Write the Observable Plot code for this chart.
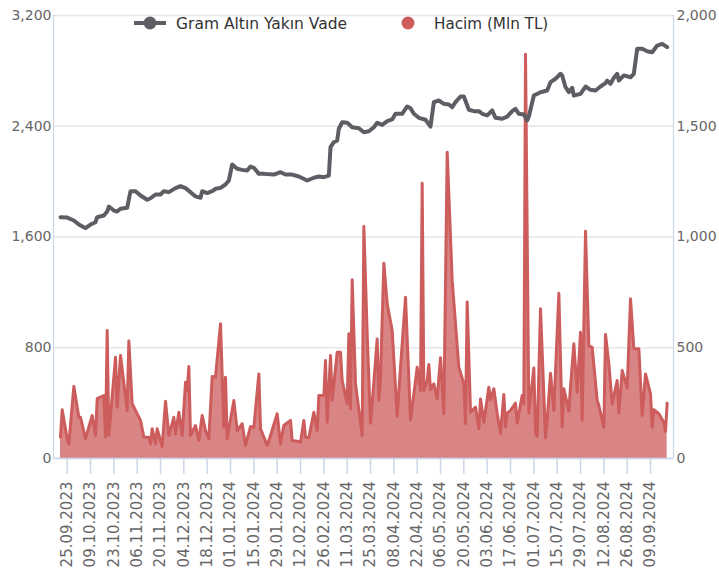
<!DOCTYPE html>
<html><head><meta charset="utf-8">
<script src="https://cdn.jsdelivr.net/npm/d3@7"></script>
<script src="https://cdn.jsdelivr.net/npm/@observablehq/plot@0.6"></script>
<style>
body{margin:0;background:#fff;}
#wrap{position:relative;width:719px;height:574px;font-family:"DejaVu Sans",sans-serif;overflow:hidden;}
#legend{position:absolute;left:0;top:0;}
</style></head><body>
<div id="wrap"><div id="chart"></div><svg id="legend" width="719" height="40"></svg></div>
<script>
const seriesNames = ["Gram Altın Yakın Vade", "Hacim (Mln TL)"];
const seriesColors = ["#5c5e63", "#cd5c5c"];
const leftTicks = [0, 800, 1600, 2400, 3200];
const rightTicks = [0, 500, 1000, 1500, 2000];
const tickDates = ["2023-09-25","2023-10-09","2023-10-23","2023-11-06","2023-11-20","2023-12-04","2023-12-18","2024-01-01","2024-01-15","2024-01-29","2024-02-12","2024-02-26","2024-03-11","2024-03-25","2024-04-08","2024-04-22","2024-05-06","2024-05-20","2024-06-03","2024-06-17","2024-07-01","2024-07-15","2024-07-29","2024-08-12","2024-08-26","2024-09-09"];

const priceDates = ["2023-09-21","2023-09-25","2023-09-29","2023-10-02","2023-10-05","2023-10-06","2023-10-09","2023-10-12","2023-10-13","2023-10-17","2023-10-19","2023-10-20","2023-10-23","2023-10-25","2023-10-27","2023-10-31","2023-11-02","2023-11-05","2023-11-08","2023-11-12","2023-11-14","2023-11-17","2023-11-20","2023-11-22","2023-11-25","2023-11-29","2023-12-02","2023-12-05","2023-12-08","2023-12-11","2023-12-14","2023-12-15","2023-12-18","2023-12-21","2023-12-23","2023-12-26","2023-12-29","2023-12-31","2024-01-02","2024-01-05","2024-01-08","2024-01-11","2024-01-13","2024-01-15","2024-01-18","2024-01-21","2024-01-27","2024-01-31","2024-02-03","2024-02-07","2024-02-11","2024-02-16","2024-02-20","2024-02-23","2024-02-26","2024-02-29","2024-03-01","2024-03-03","2024-03-05","2024-03-06","2024-03-08","2024-03-11","2024-03-14","2024-03-18","2024-03-21","2024-03-24","2024-03-27","2024-03-29","2024-04-01","2024-04-04","2024-04-07","2024-04-09","2024-04-13","2024-04-16","2024-04-18","2024-04-20","2024-04-23","2024-04-27","2024-04-30","2024-05-02","2024-05-05","2024-05-08","2024-05-11","2024-05-13","2024-05-15","2024-05-18","2024-05-20","2024-05-23","2024-05-26","2024-05-29","2024-05-31","2024-06-03","2024-06-06","2024-06-08","2024-06-12","2024-06-15","2024-06-18","2024-06-20","2024-06-22","2024-06-25","2024-06-27","2024-06-28","2024-07-01","2024-07-05","2024-07-09","2024-07-11","2024-07-14","2024-07-17","2024-07-18","2024-07-20","2024-07-22","2024-07-24","2024-07-25","2024-07-29","2024-08-01","2024-08-04","2024-08-07","2024-08-10","2024-08-13","2024-08-14","2024-08-16","2024-08-18","2024-08-20","2024-08-21","2024-08-24","2024-08-28","2024-08-30","2024-09-01","2024-09-04","2024-09-07","2024-09-10","2024-09-13","2024-09-16","2024-09-19"];
const priceValues = [1743,1740,1719,1690,1671,1664,1690,1707,1743,1755,1784,1820,1791,1784,1804,1811,1931,1931,1900,1869,1880,1907,1907,1931,1924,1953,1967,1953,1924,1893,1883,1931,1917,1931,1948,1955,1979,2008,2124,2093,2085,2080,2109,2100,2056,2056,2051,2068,2051,2051,2037,2008,2028,2037,2032,2044,2249,2285,2297,2382,2429,2425,2393,2386,2357,2364,2393,2425,2410,2437,2449,2490,2490,2543,2530,2490,2461,2447,2398,2574,2586,2562,2557,2538,2574,2615,2615,2519,2509,2509,2490,2478,2514,2461,2454,2470,2509,2526,2490,2485,2442,2470,2622,2646,2658,2718,2743,2779,2767,2682,2646,2678,2622,2634,2687,2663,2658,2687,2711,2730,2706,2750,2779,2730,2767,2754,2779,2960,2960,2942,2935,2983,2995,2971];

const volDates = ["2023-09-21","2023-09-22","2023-09-25","2023-09-26","2023-09-29","2023-10-02","2023-10-03","2023-10-06","2023-10-10","2023-10-12","2023-10-13","2023-10-17","2023-10-18","2023-10-19","2023-10-20","2023-10-24","2023-10-25","2023-10-27","2023-10-31","2023-11-01","2023-11-03","2023-11-08","2023-11-10","2023-11-13","2023-11-14","2023-11-15","2023-11-17","2023-11-18","2023-11-21","2023-11-23","2023-11-25","2023-11-28","2023-11-29","2023-12-01","2023-12-03","2023-12-05","2023-12-06","2023-12-07","2023-12-08","2023-12-11","2023-12-13","2023-12-15","2023-12-17","2023-12-19","2023-12-21","2023-12-23","2023-12-26","2023-12-28","2023-12-29","2023-12-30","2024-01-03","2024-01-05","2024-01-08","2024-01-10","2024-01-13","2024-01-15","2024-01-18","2024-01-19","2024-01-23","2024-01-25","2024-01-29","2024-01-31","2024-02-02","2024-02-06","2024-02-07","2024-02-10","2024-02-12","2024-02-14","2024-02-15","2024-02-17","2024-02-20","2024-02-22","2024-02-23","2024-02-26","2024-02-27","2024-02-28","2024-03-01","2024-03-02","2024-03-05","2024-03-07","2024-03-08","2024-03-11","2024-03-12","2024-03-13","2024-03-14","2024-03-16","2024-03-20","2024-03-21","2024-03-23","2024-03-25","2024-03-27","2024-03-29","2024-03-30","2024-03-31","2024-04-02","2024-04-04","2024-04-07","2024-04-10","2024-04-12","2024-04-15","2024-04-18","2024-04-20","2024-04-22","2024-04-24","2024-04-25","2024-04-26","2024-04-28","2024-04-29","2024-04-30","2024-05-02","2024-05-04","2024-05-06","2024-05-08","2024-05-10","2024-05-13","2024-05-17","2024-05-20","2024-05-21","2024-05-22","2024-05-24","2024-05-27","2024-05-29","2024-05-30","2024-06-01","2024-06-04","2024-06-05","2024-06-07","2024-06-09","2024-06-11","2024-06-13","2024-06-14","2024-06-15","2024-06-17","2024-06-20","2024-06-21","2024-06-24","2024-06-25","2024-06-26","2024-06-28","2024-07-01","2024-07-02","2024-07-03","2024-07-05","2024-07-08","2024-07-09","2024-07-11","2024-07-13","2024-07-16","2024-07-18","2024-07-19","2024-07-22","2024-07-23","2024-07-25","2024-07-27","2024-07-29","2024-07-30","2024-08-01","2024-08-03","2024-08-05","2024-08-08","2024-08-09","2024-08-12","2024-08-13","2024-08-15","2024-08-17","2024-08-20","2024-08-21","2024-08-23","2024-08-26","2024-08-28","2024-08-30","2024-09-02","2024-09-04","2024-09-06","2024-09-09","2024-09-10","2024-09-11","2024-09-14","2024-09-17","2024-09-18","2024-09-19"];
const volValues = [96,220,89,66,325,186,186,89,194,104,270,284,96,578,104,457,232,465,217,530,247,172,96,96,66,134,66,134,54,259,104,186,111,209,104,344,307,415,104,149,81,194,126,89,370,367,608,141,367,89,262,126,157,59,144,141,382,134,59,104,202,66,149,172,81,78,74,172,96,93,209,126,284,284,442,164,465,262,480,480,352,247,563,224,807,337,104,1047,563,159,344,540,262,360,882,698,578,190,412,728,175,292,412,307,1243,307,352,424,310,337,269,455,202,1383,804,412,337,157,706,209,232,134,269,164,322,265,315,202,114,289,144,205,217,250,159,284,247,1825,205,409,119,99,676,93,172,385,217,746,141,315,214,322,518,299,570,172,1026,510,502,262,239,141,560,428,247,352,205,397,319,721,495,495,194,382,292,141,220,202,164,123,250];

const parse = d3.utcParse("%Y-%m-%d");
const VOL_SCALE = leftTicks[leftTicks.length - 1] / rightTicks[rightTicks.length - 1];
const priceData = priceDates.map((d, i) => ({date: parse(d), value: priceValues[i]}));
const volData = volDates.map((d, i) => ({date: parse(d), value: volValues[i]}));
const xDomain = [new Date(Date.UTC(2023, 8, 16, 19)), new Date(Date.UTC(2024, 8, 22, 19))];
const fmt = d3.format(",");

const chart = Plot.plot({
  width: 719, height: 574,
  marginLeft: 53, marginRight: 46, marginTop: 15, marginBottom: 116,
  style: {fontFamily: "DejaVu Sans", fontSize: "14px", background: "#fff"},
  x: {type: "utc", domain: xDomain},
  y: {domain: [leftTicks[0], leftTicks[leftTicks.length - 1]]},
  marks: [
    Plot.gridY(leftTicks, {stroke: "#e6e6e6", strokeOpacity: 1, strokeWidth: 1.5}),
    Plot.areaY(volData, {x: "date", y: d => d.value * VOL_SCALE, fill: seriesColors[1], fillOpacity: 0.75}),
    Plot.lineY(volData, {x: "date", y: d => d.value * VOL_SCALE, stroke: seriesColors[1], strokeWidth: 3}),
    Plot.lineY(priceData, {x: "date", y: "value", stroke: seriesColors[0], strokeWidth: 4}),
    Plot.ruleX(xDomain, {stroke: "#ccd6eb", strokeWidth: 1.2}),
    Plot.ruleY([0], {stroke: "#ccd6eb", strokeWidth: 1.5}),
    Plot.axisY(leftTicks, {anchor: "left", tickSize: 0, tickPadding: 2, tickFormat: fmt, fill: "#666", fontSize: 14, label: null}),
    Plot.axisY(rightTicks.map(v => v * VOL_SCALE), {anchor: "right", tickSize: 0, tickPadding: 3, tickFormat: d => fmt(Math.round(d / VOL_SCALE)), fill: "#666", fontSize: 14, label: null}),
    Plot.axisX(tickDates.map(parse), {anchor: "bottom", tickSize: 16, tickPadding: 7, tickRotate: -90, tickFormat: d3.utcFormat("%d.%m.%Y"), stroke: "#ccd6eb", strokeWidth: 1.5, fill: "#666", fontSize: 15, label: null})
  ]
});
document.getElementById("chart").appendChild(chart);

// legend overlay
const lg = d3.select("#legend");
const g1 = lg.append("g");
g1.append("line").attr("x1", 134).attr("x2", 166).attr("y1", 23).attr("y2", 23).attr("stroke", seriesColors[0]).attr("stroke-width", 4);
g1.append("circle").attr("cx", 150).attr("cy", 23).attr("r", 6.5).attr("fill", seriesColors[0]);
g1.append("text").attr("x", 176).attr("y", 28.5).text(seriesNames[0]).attr("fill", "#333").attr("font-size", 15.5).attr("font-family", "DejaVu Sans");
const g2 = lg.append("g");
g2.append("circle").attr("cx", 408).attr("cy", 23).attr("r", 6.5).attr("fill", seriesColors[1]);
g2.append("text").attr("x", 434).attr("y", 28.5).text(seriesNames[1]).attr("fill", "#333").attr("font-size", 15.2).attr("font-family", "DejaVu Sans");
</script>
</body></html>
